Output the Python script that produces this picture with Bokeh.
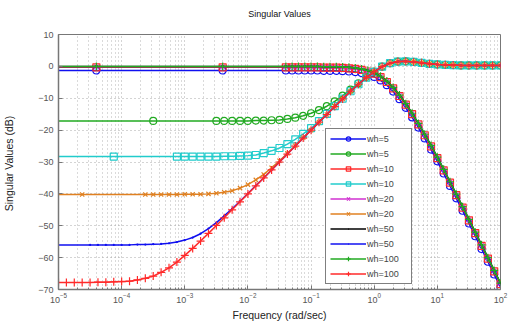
import numpy as np
from bokeh.plotting import figure
from bokeh.models import Range1d, FixedTicker, Legend, LegendItem, Title
from bokeh.embed import file_html
from bokeh.resources import INLINE

# ---------------- data (log10 of frequency in rad/sec, singular values in dB) -------------
# upper branch (sigma_1) grid, shared by the five upper curves
lf_T = [-5.1, -4.4, -2.4, -1.4, -1.3, -1.2, -1.1, -1.0, -0.9, -0.8, -0.7, -0.6, -0.5,
        -0.4, -0.3, -0.2, -0.1, 0.0, 0.1, 0.2, 0.3, 0.4, 0.5, 0.6, 0.7, 0.8, 0.9, 1.0,
        1.1, 1.2, 1.3, 1.4, 1.5, 1.6, 1.7, 1.8, 1.9, 2.0]
T_wh5 = [-1.3, -1.3, -1.3, -1.3, -1.3, -1.3, -1.3, -1.3, -1.3, -1.4, -1.4, -1.4, -1.5,
         -1.6, -1.8, -2.1, -2.6, -3.3, -4.4, -5.9, -7.9, -10.3, -13.0, -16.0, -19.2,
         -22.6, -26.1, -29.8, -33.6, -37.5, -41.4, -45.3, -49.3, -53.3, -57.3, -61.3,
         -65.3, -69.3]
T_wh10 = [-0.3, -0.3, -0.3, -0.3, -0.3, -0.3, -0.3, -0.3, -0.3, -0.4, -0.4, -0.4, -0.5,
          -0.6, -0.8, -1.1, -1.6, -2.3, -3.4, -4.9, -6.9, -9.3, -12.0, -15.0, -18.2,
          -21.6, -25.1, -28.8, -32.6, -36.5, -40.4, -44.3, -48.3, -52.3, -56.3, -60.3,
          -64.3, -68.3]
T_wh20 = [-0.1, -0.1, -0.1, -0.1, -0.1, -0.1, -0.1, -0.1, -0.1, -0.2, -0.2, -0.2, -0.3,
          -0.4, -0.6, -0.9, -1.4, -2.1, -3.2, -4.7, -6.7, -9.1, -11.8, -14.8, -18.0,
          -21.4, -24.9, -28.6, -32.4, -36.3, -40.2, -44.1, -48.1, -52.1, -56.1, -60.1,
          -64.1, -68.1]
T_wh50 = [0.0, 0.0, 0.0, 0.0, 0.0, 0.0, 0.0, 0.0, 0.0, -0.1, -0.1, -0.1, -0.2, -0.3,
          -0.5, -0.8, -1.3, -2.0, -3.1, -4.6, -6.6, -9.0, -11.7, -14.7, -17.9, -21.3,
          -24.8, -28.5, -32.3, -36.2, -40.1, -44.0, -48.0, -52.0, -56.0, -60.0, -64.0,
          -68.0]
T_wh100 = [0.0, 0.0, 0.0, 0.0, 0.0, 0.0, 0.0, 0.0, 0.0, -0.1, -0.1, -0.1, -0.2, -0.3,
           -0.5, -0.8, -1.3, -2.0, -3.1, -4.6, -6.6, -9.0, -11.7, -14.7, -17.9, -21.3,
           -24.8, -28.5, -32.3, -36.2, -40.1, -44.0, -48.0, -52.0, -56.0, -60.0, -64.0,
           -68.0]

# lower branch (sigma_2) grid
lf_S = [-5.0, -4.875, -4.75, -4.625, -4.5, -4.375, -4.25, -4.125, -4.0, -3.875, -3.75,
        -3.625, -3.5, -3.375, -3.25, -3.125, -3.0, -2.875, -2.75, -2.625, -2.5, -2.375,
        -2.25, -2.125, -2.0, -1.875, -1.75, -1.625, -1.5, -1.375, -1.25, -1.125, -1.0,
        -0.875, -0.75, -0.625, -0.5, -0.375, -0.25, -0.125, 0.0, 0.125, 0.25, 0.375,
        0.5, 0.625, 0.75, 0.875, 1.0, 1.125, 1.25, 1.375, 1.5, 1.625, 1.75, 1.875, 2.0]
lf_S100 = lf_S
lf_S50 = [-5.1] + lf_S[4:]
lf_S20 = [-5.1, -4.625] + lf_S[11:]
lf_S10 = [-5.1, -4.125] + lf_S[15:]
lf_S5 = [-5.1, -3.5] + lf_S[20:]

S_wh100 = [-67.8, -67.8, -67.8, -67.8, -67.8, -67.7, -67.7, -67.6, -67.5, -67.4, -67.0,
           -66.5, -65.8, -64.6, -63.2, -61.4, -59.3, -57.1, -54.8, -52.4, -49.9, -47.5,
           -45.0, -42.5, -40.0, -37.5, -35.0, -32.5, -30.0, -27.5, -25.0, -22.5, -20.0,
           -17.5, -15.1, -12.6, -10.2, -7.8, -5.6, -3.5, -1.7, -0.1, 1.0, 1.5, 1.6, 1.4,
           1.1, 0.8, 0.6, 0.5, 0.4, 0.3, 0.3, 0.3, 0.3, 0.3, 0.3]
S_wh50 = [-56.0, -56.0, -56.0, -56.0, -56.0, -56.0, -56.0, -55.9, -55.9, -55.8, -55.7,
          -55.5, -55.1, -54.5, -53.7, -52.5, -50.9, -49.0, -46.9, -44.7, -42.3, -39.9,
          -37.4, -35.0, -32.5, -30.0, -27.5, -25.0, -22.5, -20.0, -17.5, -15.1, -12.6,
          -10.2, -7.8, -5.6, -3.5, -1.7, -0.1, 1.0, 1.5, 1.6, 1.4, 1.1, 0.8, 0.6, 0.5,
          0.4, 0.3, 0.3, 0.3, 0.3, 0.3, 0.3]
S_wh20 = [-40.2, -40.2, -40.2, -40.2, -40.2, -40.2, -40.2, -40.1, -40.1, -40.1, -40.0,
          -39.8, -39.5, -39.0, -38.2, -37.1, -35.6, -33.9, -31.8, -29.6, -27.3, -24.9,
          -22.4, -20.0, -17.5, -15.1, -12.6, -10.2, -7.8, -5.6, -3.5, -1.7, -0.1, 1.0,
          1.5, 1.6, 1.4, 1.1, 0.8, 0.6, 0.5, 0.4, 0.3, 0.3, 0.3, 0.3, 0.3, 0.3]
S_wh10 = [-28.3, -28.3, -28.3, -28.3, -28.3, -28.3, -28.3, -28.3, -28.2, -28.2, -28.1,
          -28.0, -27.8, -27.2, -26.5, -25.6, -24.4, -22.9, -21.2, -19.4, -17.2, -14.9,
          -12.5, -10.1, -7.8, -5.6, -3.5, -1.7, -0.1, 1.0, 1.5, 1.6, 1.4, 1.1, 0.8, 0.6,
          0.5, 0.4, 0.3, 0.3, 0.3, 0.3, 0.3, 0.3]
S_wh5 = [-17.1, -17.1, -17.1, -17.1, -17.1, -17.1, -17.1, -17.0, -17.0, -16.9, -16.8,
         -16.5, -16.1, -15.5, -14.7, -13.7, -12.5, -11.0, -9.2, -7.3, -5.3, -3.3, -1.6,
         -0.1, 1.0, 1.5, 1.6, 1.4, 1.1, 0.8, 0.6, 0.5, 0.4, 0.3, 0.3, 0.3, 0.3, 0.3, 0.3]

labels = ["wh=5", "wh=5", "wh=10", "wh=10", "wh=20", "wh=20", "wh=50", "wh=50",
          "wh=100", "wh=100"]
series = [(lf_T, T_wh5), (lf_S5, S_wh5), (lf_T, T_wh10), (lf_S10, S_wh10),
          (lf_T, T_wh20), (lf_S20, S_wh20), (lf_T, T_wh50), (lf_S50, S_wh50),
          (lf_T, T_wh100), (lf_S100, S_wh100)]
colors = ["#1010f0", "#22aa22", "#ff2a2a", "#22cccc", "#d030d0", "#e08020",
          "#000000", "#1010f0", "#22aa22", "#ff2a2a"]
markers = ["circle", "circle", "square", "square", "x", "x", "dot", "dot", "cross",
           "cross"]
msizes = [7, 7, 7, 7, 6, 6, 9, 9, 8, 8]

title_text = "Singular Values"
y_ticks = [-70, -60, -50, -40, -30, -20, -10, 0, 10]
x_ticks = [1e-5, 1e-4, 1e-3, 1e-2, 1e-1, 1e0, 1e1, 1e2]
x_minor = [m * d for d in x_ticks[:-1] for m in range(2, 10)]

FONT = "Liberation Sans"

p = figure(width=512, height=323, x_axis_type="log",
           x_range=Range1d(1e-5, 1e2), y_range=Range1d(-70, 10),
           output_backend="svg", toolbar_location=None, title=None,
           min_border_left=58, min_border_right=12, min_border_top=34,
           min_border_bottom=32)
p.background_fill_color = "white"
p.border_fill_color = "white"
p.outline_line_color = "#777777"

# an empty spacer title next to the frame pushes the real title upward
spacer = Title(text=" ", text_font=FONT, text_font_size="8px", standoff=0)
p.add_layout(spacer, "above")
main_title = Title(text=title_text, align="center", text_font=FONT,
                   text_font_size="9px", text_font_style="normal",
                   text_color="#111111", standoff=10)
p.add_layout(main_title, "above")

for ax in (p.xaxis[0], p.yaxis[0]):
    ax.axis_line_color = "#777777"
    ax.axis_line_width = 1.5
    ax.major_tick_line_color = "#777777"
    ax.minor_tick_line_color = "#777777"
    ax.major_tick_in = 4
    ax.major_tick_out = 0
    ax.minor_tick_in = 2
    ax.minor_tick_out = 0
    ax.major_label_text_font = FONT
    ax.major_label_text_font_size = "9px"
    ax.major_label_text_color = "#555555"
    ax.axis_label_text_font = FONT
    ax.axis_label_text_font_size = "10.5px"
    ax.axis_label_text_font_style = "normal"
    ax.axis_label_text_color = "#222222"

p.xaxis[0].ticker = FixedTicker(ticks=x_ticks, minor_ticks=x_minor)
p.yaxis[0].ticker = FixedTicker(ticks=y_ticks)
p.yaxis[0].minor_tick_line_color = None
p.xaxis[0].axis_label = "Frequency (rad/sec)"
p.yaxis[0].axis_label = "Singular Values  (dB)"
p.xaxis[0].major_label_standoff = 3
p.yaxis[0].major_label_standoff = 5
p.xaxis[0].axis_label_standoff = 3
p.yaxis[0].axis_label_standoff = 20

p.xgrid.grid_line_color = "#a8a8a8"
p.xgrid.grid_line_dash = "1 3"
p.xgrid.minor_grid_line_color = "#b4b4b4"
p.xgrid.minor_grid_line_dash = "1 3"
p.ygrid.grid_line_color = "#a8a8a8"
p.ygrid.grid_line_dash = "1 3"

items = []
for (lf, db), lab, c, m, s in zip(series, labels, colors, markers, msizes):
    f = [10.0 ** v for v in lf]
    ln = p.line(f, db, line_color=c, line_width=1.5)
    if m == "dot":
        sc = p.scatter(f, db, marker="dot", size=s, line_color=c, fill_color=c)
    else:
        sc = p.scatter(f, db, marker=m, size=s, line_color=c, fill_color=None,
                       line_width=1.2)
    items.append(LegendItem(label=lab, renderers=[ln, sc]))

legend = Legend(items=items, location=(267, 5))
legend.border_line_color = "black"
legend.border_line_width = 1
legend.background_fill_color = "white"
legend.background_fill_alpha = 1
legend.label_text_font = FONT
legend.label_text_font_size = "9px"
legend.glyph_width = 36
legend.glyph_height = 11
legend.label_height = 11
legend.spacing = 4
legend.padding = 4
legend.margin = 0
legend.label_standoff = 1
legend.label_width = 40
p.add_layout(legend)

open("out.html", "w").write(file_html(p, INLINE))
